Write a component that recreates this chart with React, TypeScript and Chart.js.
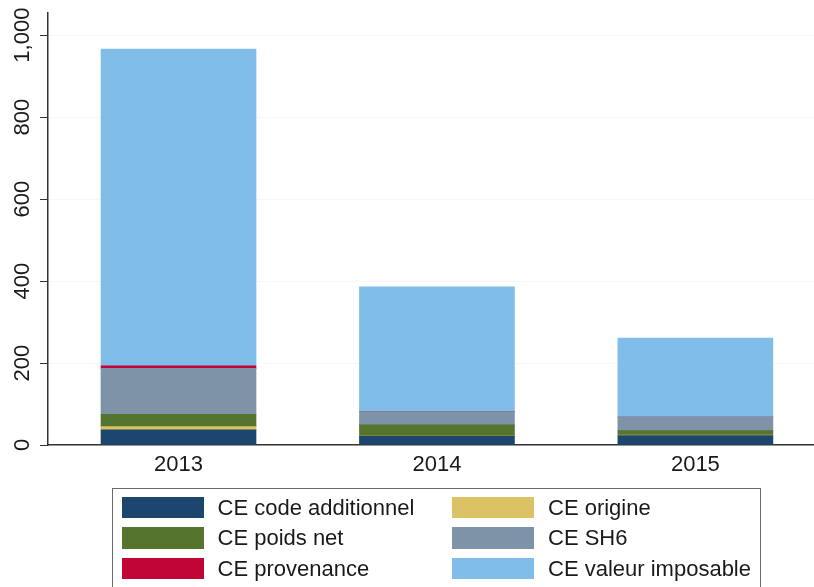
import React, { useEffect, useRef } from "react";
import { Chart, registerables } from "chart.js";

Chart.register(...registerables);

const years = [2013, 2014, 2015];
const seriesLabels = [
  "CE code additionnel",
  "CE origine",
  "CE poids net",
  "CE SH6",
  "CE provenance",
  "CE valeur imposable",
];
const codeAdditionnel = [37, 21, 23];
const origine = [8, 1, 1];
const poidsNet = [30, 27, 11];
const sh6 = [112, 32, 33];
const provenance = [6, 0, 0];
const valeurImposable = [773, 305, 193];
const seriesColors = ["#1c466e", "#dbc265", "#55752f", "#7e92a8", "#c10534", "#80bee9"];
const yStep = 200;
const yMax = 1054;

const allSeries = [codeAdditionnel, origine, poidsNet, sh6, provenance, valeurImposable];

const FONT = "'Liberation Sans', Arial, sans-serif";

export default function App() {
  const ref = useRef<HTMLCanvasElement | null>(null);

  useEffect(() => {
    if (!ref.current) return;
    const chart = new Chart(ref.current, {
      type: "bar",
      data: {
        datasets: allSeries.map((vals, si) => ({
          label: seriesLabels[si],
          data: years.map((yr, i) => ({ x: yr, y: vals[i] })),
          backgroundColor: seriesColors[si],
          borderWidth: 0,
          barThickness: 155,
        })),
      },
      options: {
        responsive: false,
        animation: false,
        layout: { padding: { top: 13, left: 0, right: 0, bottom: 0 } },
        plugins: { legend: { display: false }, tooltip: { enabled: false } },
        scales: {
          x: {
            type: "linear",
            stacked: true,
            offset: false,
            min: 2012.495,
            max: 2015.459,
            grid: { offset: false, drawOnChartArea: false, drawTicks: false, color: "rgba(0,0,0,0)" },
            border: { display: true, color: "#333", width: 1.5 },
            ticks: {
              stepSize: 1,
              includeBounds: false,
              padding: 7,
              color: "#1a1a1a",
              font: { family: FONT, size: 22 },
              callback: (v: any) => (Number.isInteger(v) ? String(v) : ""),
              maxRotation: 0,
              minRotation: 0,
            },
            afterFit: (s: any) => {
              s.height = 142;
            },
          },
          y: {
            stacked: true,
            min: 0,
            max: yMax,
            grid: { color: "#f7f7f7", tickColor: "#333", tickLength: 8, lineWidth: 1 },
            border: { display: true, color: "#333", width: 1.5 },
            ticks: {
              stepSize: yStep,
              includeBounds: false,
              minRotation: 90,
              maxRotation: 90,
              crossAlign: "center",
              padding: -10,
              color: "#1a1a1a",
              font: { family: FONT, size: 22 },
              callback: (v: any) => Number(v).toLocaleString("en-US"),
            },
            afterFit: (s: any) => {
              s.width = 48;
            },
          },
        },
      },
    });
    return () => chart.destroy();
  }, []);

  const legendLeft = [8.5, 339];
  const rowTop = [7.8, 38.3, 68.8];

  return (
    <div style={{ position: "fixed", left: 0, top: 0, width: 814, height: 587, background: "#fff", overflow: "hidden" }}>
      <canvas ref={ref} width={814} height={587} style={{ width: 814, height: 587, display: "block" }} />
      <div
        style={{
          position: "absolute",
          left: 112,
          top: 488,
          width: 649,
          height: 130,
          border: "1.5px solid #6a6a6a",
          boxSizing: "border-box",
          fontFamily: FONT,
          fontSize: 22,
          color: "#1a1a1a",
        }}
      >
        {seriesLabels.map((lab, i) => (
          <div
            key={lab}
            style={{
              position: "absolute",
              left: legendLeft[i % 2],
              top: rowTop[Math.floor(i / 2)],
              height: 21.5,
              display: "flex",
              alignItems: "center",
              whiteSpace: "nowrap",
            }}
          >
            <span style={{ display: "inline-block", width: 82, height: 21.5, background: seriesColors[i], marginRight: 14 }} />
            <span style={{ lineHeight: "21.5px" }}>{lab}</span>
          </div>
        ))}
      </div>
    </div>
  );
}
